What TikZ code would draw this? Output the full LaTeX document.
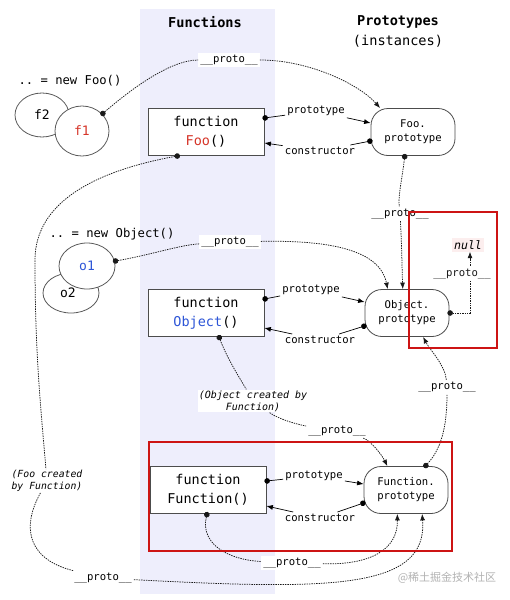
\documentclass[tikz,border=0pt]{standalone}
\usepackage{fontspec}
\setmonofont{DejaVu Sans Mono}
\newfontfamily\cjk{Noto Sans CJK SC}
\usetikzlibrary{arrows.meta,shapes.geometric}
\definecolor{fooRed}{RGB}{214,52,40}
\definecolor{objBlue}{RGB}{45,85,215}
\definecolor{colBg}{RGB}{238,238,252}
\definecolor{nullBg}{RGB}{252,238,238}
\definecolor{hiRed}{RGB}{205,20,20}
\newcommand{\protolbl}{\_\_proto\_\_}

\begin{document}
\begin{tikzpicture}[x=1pt, y=-1pt,
    head/.style={font=\ttfamily\bfseries\fontsize{13.6}{16}\selectfont},
    capt/.style={font=\ttfamily\fontsize{12.2}{14}\selectfont},
    inst/.style={ellipse, draw=black!65, fill=white, line width=0.8pt, inner sep=0pt,
      font=\ttfamily\fontsize{13}{15}\selectfont},
    fbox/.style={draw=black!70, fill=white, line width=0.8pt, minimum width=116pt,
      minimum height=47pt, align=center, font=\ttfamily\fontsize{13.5}{19}\selectfont},
    pbox/.style={draw=black!70, fill=white, line width=0.8pt, rounded corners=17pt,
      minimum width=84pt, minimum height=47pt, align=center,
      font=\ttfamily\fontsize{10.6}{14}\selectfont},
    lbl/.style={fill=white, inner sep=2pt, font=\ttfamily\fontsize{10.6}{12}\selectfont},
    note/.style={fill=white, inner sep=1pt, align=center,
      font=\ttfamily\itshape\fontsize{10}{12}\selectfont},
    from/.style={{Circle[length=5.5pt, sep=-2pt]}-},
    into/.style={-{Latex[length=6.5pt,width=5pt]}},
    fromto/.style={{Circle[length=5.5pt, sep=-2pt]}-{Latex[length=6.5pt,width=5pt]}},
    link/.style={line width=0.7pt},
    chain/.style={line width=0.75pt, black!90, dash pattern=on 1.4pt off 1pt},
    hibox/.style={draw=hiRed, line width=1.8pt}
  ]

  \useasboundingbox (0,0) rectangle (510,600);
  \fill[colBg] (140,9) rectangle (275,594);

  \node[head] (hfun) at (205,22) {Functions};
  \node[head] (hproto) at (398,22) {Prototypes};
  \node[capt, font=\ttfamily\fontsize{13.6}{16}\selectfont] (hinst) at (398,41) {(instances)};

  \node[capt] (capfoo) at (70,81) {.. = new Foo()};
  \node[inst, minimum width=54pt, minimum height=44pt] (f2) at (42,115) {f2};
  \node[inst, minimum width=54pt, minimum height=50pt] (f1) at (82,131) {\textcolor{fooRed}{f1}};
  \node[capt] (capobj) at (112,234) {.. = new Object()};
  \node[inst, minimum width=56pt, minimum height=40pt] (o2) at (71,293) {\raisebox{-4pt}{o2\hspace*{6pt}}};
  \node[inst, minimum width=56pt, minimum height=46pt] (o1) at (87,266) {\textcolor{objBlue}{o1}};

  \node[fbox] (foo) at (206,132) {function\\\textcolor{fooRed}{Foo}()};
  \node[pbox] (fooproto) at (413,132) {Foo.\\prototype};
  \node[fbox] (object) at (206,313) {function\\\textcolor{objBlue}{Object}()};
  \node[pbox] (objproto) at (407,313) {Object.\\prototype};
  \node[fbox] (function) at (208,490) {function\\Function()};
  \node[pbox] (funproto) at (406,490) {Function.\\prototype};
  \node[fill=nullBg, inner sep=2pt, font=\ttfamily\itshape\fontsize{11.6}{13}\selectfont] (null) at (468,245) {null};

  \node[lbl] (pfoo) at (316,111) {prototype};
  \node[lbl] (cfoo) at (320,151) {constructor};
  \node[lbl] (pobj) at (311,290) {prototype};
  \node[lbl] (cobj) at (320,340) {constructor};
  \node[lbl] (pfn) at (314,476) {prototype};
  \node[lbl] (cfn) at (320,518) {constructor};

  \node[lbl] (pf1) at (229,60) {\protolbl};
  \node[lbl] (pfp) at (400,214) {\protolbl};
  \node[lbl] (po1) at (230,242) {\protolbl};
  \node[lbl] (pobjfun) at (337,431) {\protolbl};
  \node[lbl] (pfunp) at (447,387) {\protolbl};
  \node[lbl] (pfun) at (292,563) {\protolbl};
  \node[lbl] (pfoofun) at (103,578) {\protolbl};
  \node[note] (nobj) at (253,401) {(Object created by\\Function)};
  \node[note, font=\ttfamily\itshape\fontsize{9.8}{12}\selectfont] (nfoo) at (47,481) {(Foo created\\by Function)};

  \draw[link, from] ([yshift=14pt]foo.east) -- (pfoo);
  \draw[link, into] (pfoo) -- ([yshift=9pt]fooproto.west);
  \draw[link, from] ([yshift=-9pt]fooproto.west) -- (cfoo);
  \draw[link, into] (cfoo) -- ([yshift=-11pt]foo.east);
  \draw[link, from] ([yshift=14pt]object.east) -- (pobj);
  \draw[link, into] (pobj) -- ([yshift=11pt]objproto.west);
  \draw[link, from] ([yshift=-13pt]objproto.west) -- (cobj);
  \draw[link, into] (cobj) -- ([yshift=-15pt]object.east);
  \draw[link, from] ([yshift=9pt]function.east) -- (pfn);
  \draw[link, into] (pfn) -- ([yshift=6pt]funproto.west);
  \draw[link, from] ([yshift=-13pt]funproto.west) -- (cfn);
  \draw[link, into] (cfn) -- ([yshift=-16pt]function.east);

  \draw[chain, from] (f1.40) .. controls (130,90) and (170,60) .. (pf1);
  \draw[chain, into] (pf1) .. controls (310,60) and (360,85) .. (fooproto.144);
  \draw[chain, from] (fooproto.-109) .. controls (402,180) and (398,195) .. (pfp);
  \draw[chain, into] (pfp) .. controls (402,250) and (402,270) .. (objproto.100);
  \draw[chain, from] (o1.10) .. controls (150,255) and (180,245) .. (po1);
  \draw[chain, into] (po1) .. controls (330,240) and (380,250) .. (objproto.129);
  \draw[chain, fromto] (objproto.east) -| node[lbl, pos=0.75, xshift=-8pt, yshift=8pt] (pnull) {\protolbl} ([xshift=2pt]null.south);
  \draw[chain, from] ([xshift=13pt]object.south) .. controls (228,360) and (238,375) .. (nobj);
  \draw[chain] (nobj) .. controls (280,420) and (300,425) .. (pobjfun);
  \draw[chain, into] (pobjfun) .. controls (370,440) and (382,455) .. (funproto.128);
  \draw[chain, from] (funproto.51) .. controls (440,450) and (447,430) .. (pfunp);
  \draw[chain, into] (pfunp) .. controls (445,365) and (430,350) .. (objproto.-56);
  \draw[chain, from] ([xshift=-1pt]function.south) .. controls (200,545) and (230,560) .. (pfun);
  \draw[chain, into] (pfun) .. controls (370,565) and (398,550) .. (funproto.250);
  \draw[chain, from] ([xshift=-28pt]foo.south) .. controls (100,170) and (35,200) .. (35,260)
    .. controls (35,350) and (40,400) .. (nfoo);
  \draw[chain] (nfoo) .. controls (20,530) and (30,560) .. (pfoofun);
  \draw[chain, into] (pfoofun) .. controls (330,590) and (428,590) .. (funproto.304);

  \draw[hibox] (409,212) rectangle (497,348);
  \draw[hibox] (149,442) rectangle (452,551);

  \node[text=black!30, font=\cjk\fontsize{11}{13}\selectfont] (wm) at (447,578) {@稀土掘金技术社区};
\end{tikzpicture}
\end{document}
